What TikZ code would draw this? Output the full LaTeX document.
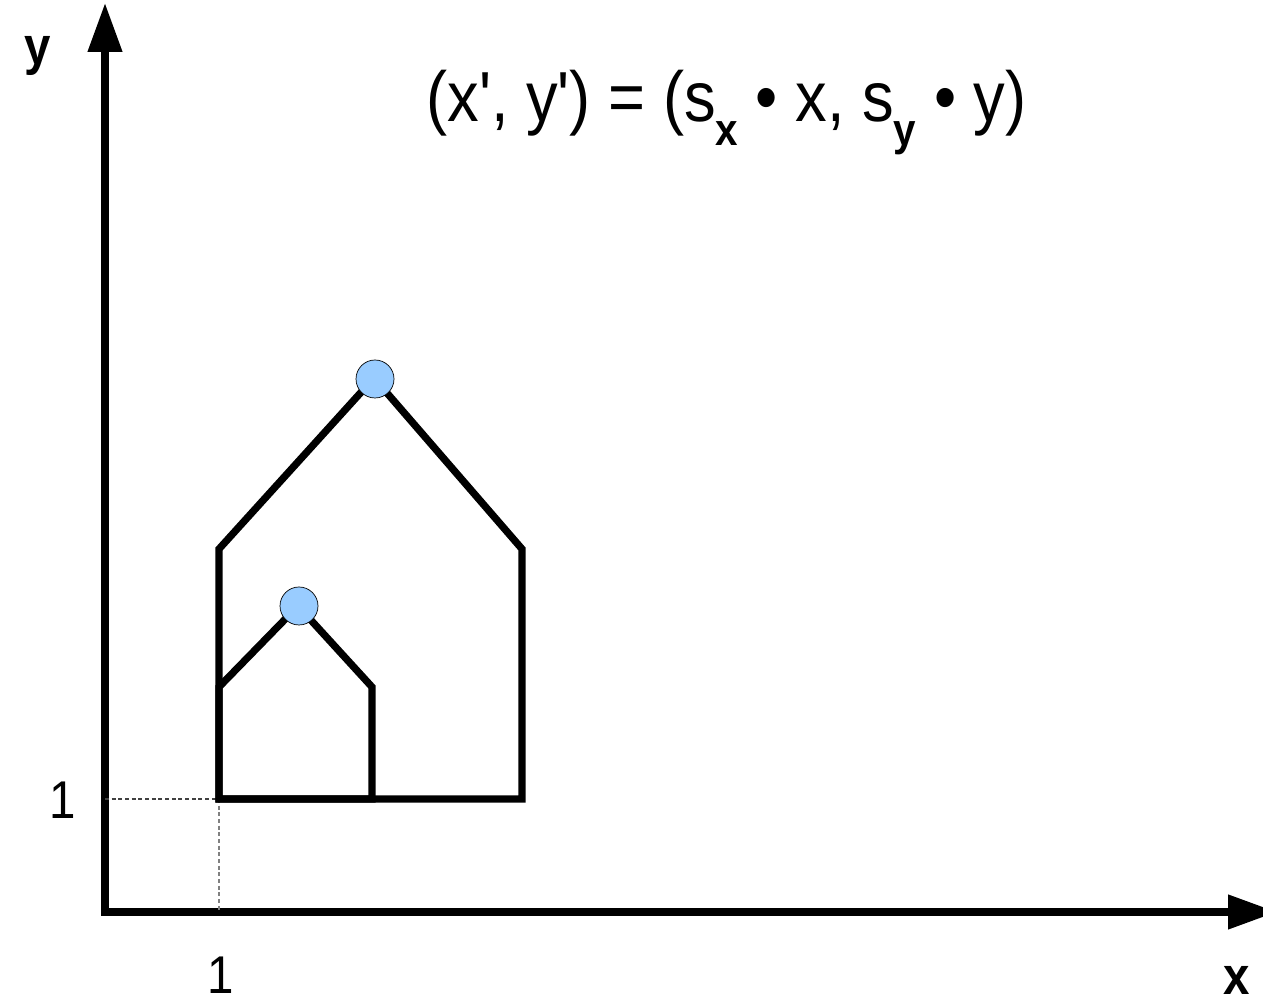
\documentclass[tikz,border=0pt]{standalone}
\usepackage{fontspec}
\usepackage{graphicx}
\setmainfont{Liberation Sans}
\usetikzlibrary{arrows.meta}
\definecolor{vertexblue}{RGB}{153,204,255}
\newcommand\tall[1]{\scalebox{1}[1.12]{#1}}
\newcommand\lowsub[1]{\raisebox{-12pt}{\fontsize{23}{26}\selectfont\bfseries #1}}

\begin{document}
\begin{tikzpicture}[x=0.02cm,y=0.02cm,
  axis/.style={line width=0.15cm,line cap=rect,-{Triangle[length=0.98cm,width=0.66cm]}},
  wall/.style={line width=0.145cm},
  guide/.style={line width=0.6pt,dash pattern=on 2.2pt off 1.6pt},
  vertex/.style={circle,draw,thin,fill=vertexblue,minimum size=0.76cm,inner sep=0pt},
  lbl/.style={inner sep=0pt,font=\fontsize{27}{30}\selectfont}]
 \useasboundingbox (0,0) rectangle (1263,1006);
 % axes
 \coordinate (O) at (105,94); \coordinate (ytip) at (105,1003); \coordinate (xtip) at (1277,94);
 \draw[axis] (O) -- (ytip);
 \draw[axis] (O) -- (xtip);
 \node[lbl,font=\fontsize{27}{30}\selectfont\bfseries] (ylabel) at (38,950) {\tall{y}};
 \node[lbl,font=\fontsize{27}{30}\selectfont\bfseries] (xlabel) at (1237,26) {\tall{x}};
 % unit marks
 \coordinate (one) at (219,207); \coordinate (yone) at (105,207); \coordinate (xone) at (219,94);
 \draw[guide,black!75] (yone) -- (one);
 \draw[guide,gray] (one) -- (xone);
 \node[lbl] (ytick) at (63,206) {\tall{1}};
 \node[lbl] (xtick) at (221,31) {\tall{1}};
 % scaled house
 \coordinate (bigbr) at (522,207); \coordinate (bigrw) at (522,457);
 \coordinate (biglw) at (219,457); \coordinate (bigtop) at (374,628);
 \draw[wall] (one) -- (bigbr) -- (bigrw) -- (bigtop) -- (biglw) -- cycle;
 % original house
 \coordinate (smbr) at (372,207); \coordinate (smrw) at (372,319);
 \coordinate (smlw) at (219,319); \coordinate (smtop) at (298,400);
 \draw[wall] (one) -- (smbr) -- (smrw) -- (smtop) -- (smlw) -- cycle;
 \node[vertex] (bigpeak) at (375,627) {};
 \node[vertex] (smpeak) at (299,400) {};
 \node[anchor=base west,inner sep=0pt] (rule) at (426,884)
   {\tall{\fontsize{36}{40}\selectfont (x\textquotesingle, y\textquotesingle) = (s\lowsub{x} • x, s\lowsub{y} • y)}};
\end{tikzpicture}
\end{document}
